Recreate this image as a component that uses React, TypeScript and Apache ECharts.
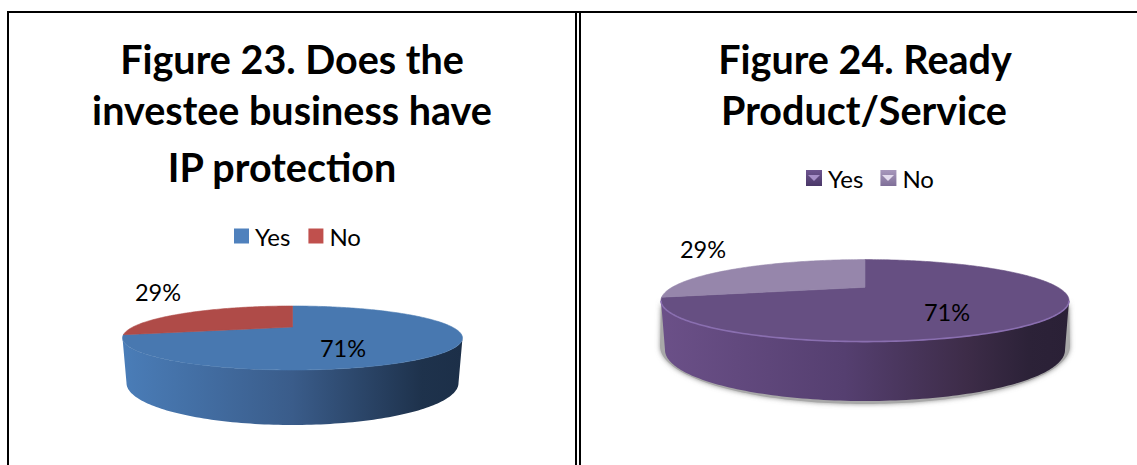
import React, { useEffect, useRef } from "react";
import * as echarts from "echarts";

// Share of investee businesses answering each question, in percent.
const categories = ["Yes", "No"];
const ipProtectionValues = [71, 29];
const readyProductValues = [71, 29];

const ipTitleLines = ["Figure 23. Does the", "investee business have", "IP protection"];
const readyTitleLines = ["Figure 24. Ready", "Product/Service"];

const FONT = "Lato, 'Open Sans', sans-serif";
const LIGHT_RIM = "#8a6fb0";

type Disc = {
  cx: number; cy: number; rx: number; ry: number; // top face, projected ellipse
  botCy: number; botRx: number; botRy: number;    // bottom edge of the wall
  k: number;                                      // perspective strength
};

const ipDisc: Disc = { cx: 292.5, cy: 338, rx: 170, ry: 32, botCy: 383, botRx: 166, botRy: 42, k: 0.344 };
const readyDisc: Disc = { cx: 865, cy: 300.6, rx: 204, ry: 41, botCy: 350, botRx: 200, botRy: 51, k: 0.324 };

// Projects an angle on the disc (clockwise from the far point) with a perspective divide,
// so the disc centre lands above the middle of the drawn ellipse.
function project(theta: number, cx: number, cy: number, rx: number, ry: number, k: number) {
  const u = Math.sin(theta);
  const v = -Math.cos(theta);
  const w = 1 - k * v;
  return [cx + (rx * Math.sqrt(1 - k * k) * u) / w, cy + (ry * v - k * ry) / w];
}

function arc(from: number, to: number, cx: number, cy: number, rx: number, ry: number, k: number) {
  const steps = Math.max(2, Math.ceil(Math.abs(to - from) / 0.02));
  const pts: number[][] = [];
  for (let i = 0; i <= steps; i++) {
    pts.push(project(from + ((to - from) * i) / steps, cx, cy, rx, ry, k));
  }
  return pts;
}

function sliceSeries(
  name: string,
  index: number,
  values: number[],
  disc: Disc,
  look: {
    color: string;
    wall: [number, string][];
    labelAt: [number, number];
    shadow?: boolean;
    rim?: string;
  }
) {
  const total = values.reduce((a, b) => a + b, 0);
  const before = values.slice(0, index).reduce((a, b) => a + b, 0);
  return {
    type: "custom",
    name,
    coordinateSystem: "none",
    silent: true,
    z: index === 0 ? 2 : 3,
    itemStyle: { color: look.color },
    data: [[values[index]]],
    renderItem: (_p: unknown, api: any) => {
      const value = api.value(0) as number;
      const start = (before / total) * Math.PI * 2;
      const end = ((before + value) / total) * Math.PI * 2;
      const { cx, cy, rx, ry, k, botCy, botRx, botRy } = disc;
      const children: any[] = [];

      // The wall is seen only between the two silhouette points of the rim.
      const frontFrom = Math.max(start, Math.acos(-k));
      const frontTo = Math.min(end, Math.PI * 2 - Math.acos(-k));
      if (frontTo > frontFrom) {
        const topEdge = arc(frontFrom, frontTo, cx, cy, rx, ry, k);
        const botEdge = arc(frontTo, frontFrom, cx, botCy, botRx, botRy, k);
        if (look.shadow) {
          // Soft grey glow under the wall, widest around the lower corners.
          const halo = arc(frontTo, frontFrom, cx, botCy - 4, botRx + 5, botRy + 7, k);
          children.push({
            type: "polygon",
            shape: { points: topEdge.concat(halo) },
            style: { fill: "#a8a8a8", shadowBlur: 5, shadowColor: "rgba(120,120,120,0.8)" },
          });
        }
        children.push({
          type: "polygon",
          shape: { points: topEdge.concat(botEdge) },
          style: {
            fill: new echarts.graphic.LinearGradient(
              1, 0, 0, 0,
              look.wall.map(([offset, color]) => ({ offset, color }))
            ),
          },
        });
      }

      // Top face of the slice: rim arc closed through the disc centre.
      const face = arc(start, end, cx, cy, rx, ry, k);
      face.push([cx, cy - k * ry]);
      children.push({
        type: "polygon",
        shape: { points: face },
        style: { fill: look.color, stroke: look.color, lineWidth: 0.6 },
      });

      if (look.rim && frontTo > frontFrom) {
        children.push({
          type: "polyline",
          shape: { points: arc(frontFrom, frontTo, cx, cy, rx, ry, k) },
          style: { fill: null, stroke: look.rim, lineWidth: 1.6 },
        });
      }

      children.push({
        type: "text",
        style: {
          x: look.labelAt[0],
          y: look.labelAt[1],
          text: `${value}%`,
          fill: "#000",
          font: `23.5px ${FONT}`,
          align: "center",
          verticalAlign: "middle",
        },
      });
      return { type: "group", children };
    },
  };
}

const titleLine = (text: string, x: number, y: number) => ({
  text,
  left: x,
  top: y,
  padding: 0,
  textAlign: "center",
  textVerticalAlign: "middle",
  textStyle: { fontFamily: FONT, fontWeight: "bold", fontSize: 39.5, color: "#000" },
});

const bevel = (top: string, bottom: string) =>
  new echarts.graphic.LinearGradient(0, 0, 0, 1, [
    { offset: 0, color: top },
    { offset: 1, color: bottom },
  ]);

const legendBase = {
  orient: "horizontal",
  selectedMode: false,
  itemWidth: 15,
  itemHeight: 15,
  icon: "rect",
  textStyle: { fontFamily: FONT, fontSize: 24, color: "#000", padding: [0, 0, 10, 1] },
  padding: 0,
};

const marker = (x: number, y: number, fill: string) => ({
  type: "polygon",
  z: 20,
  shape: { points: [[x + 2, y + 2], [x + 14, y + 2], [x + 8, y + 8]] },
  style: { fill },
});

const frameLine = (x: number, y: number, width: number, height: number) => ({
  type: "rect",
  shape: { x, y, width, height },
  style: { fill: "#000" },
});

export default function App() {
  const ref = useRef<HTMLDivElement>(null);
  useEffect(() => {
    document.body.style.margin = "0";
    const chart = echarts.init(ref.current!, undefined, { renderer: "svg" });
    chart.setOption({
      animation: false,
      backgroundColor: "#fff",
      title: [
        titleLine(ipTitleLines[0], 292, 58),
        titleLine(ipTitleLines[1], 292, 109),
        titleLine(ipTitleLines[2], 282, 166),
        titleLine(readyTitleLines[0], 865, 58),
        titleLine(readyTitleLines[1], 864, 109),
      ],
      legend: [
        {
          ...legendBase,
          left: 234,
          top: 224,
          itemGap: 18,
          data: [
            { name: categories[0], itemStyle: { color: "#4F81BD" } },
            { name: categories[1], itemStyle: { color: "#C0504D" } },
          ],
        },
        {
          ...legendBase,
          left: 806,
          top: 166,
          itemWidth: 16,
          itemHeight: 16,
          itemGap: 17,
          data: [
            { name: categories[0], itemStyle: { color: bevel("#6e5590", "#4a3768") } },
            { name: categories[1], itemStyle: { color: bevel("#a898bc", "#7f6f98") } },
          ],
        },
      ],
      graphic: [
        frameLine(7, 11, 1130, 2),
        frameLine(7, 11, 2, 454),
        frameLine(575, 11, 2, 454),
        frameLine(579, 11, 2, 454),
        marker(806, 173, "#a78fc8"),
        marker(880, 173, "#e4dcee"),
      ],
      series: [
        sliceSeries(categories[0], 0, ipProtectionValues, ipDisc, {
          color: "#4878B0",
          wall: [
            [0, "#1C2F48"],
            [0.12, "#1E324C"],
            [0.5, "#3A5C8A"],
            [1, "#4A7DB8"],
          ],
          labelAt: [343, 348],
        }),
        sliceSeries(categories[1], 1, ipProtectionValues, ipDisc, {
          color: "#AF4B48",
          wall: [[0, "#6b2d2b"], [1, "#AF4B48"]],
          labelAt: [158, 292],
        }),
        sliceSeries(categories[0], 0, readyProductValues, readyDisc, {
          color: "#664F82",
          wall: [
            [0, "#2A2036"],
            [0.1, "#2C2238"],
            [0.25, "#3D2C48"],
            [0.55, "#553F70"],
            [1, "#6B5088"],
          ],
          labelAt: [947, 312],
          shadow: true,
          rim: LIGHT_RIM,
        }),
        sliceSeries(categories[1], 1, readyProductValues, readyDisc, {
          color: "#9686AB",
          wall: [[0, "#4a3d5c"], [1, "#9686AB"]],
          labelAt: [703, 249],
        }),
      ],
    });
    return () => chart.dispose();
  }, []);
  return <div ref={ref} style={{ width: 1137, height: 465 }} />;
}
